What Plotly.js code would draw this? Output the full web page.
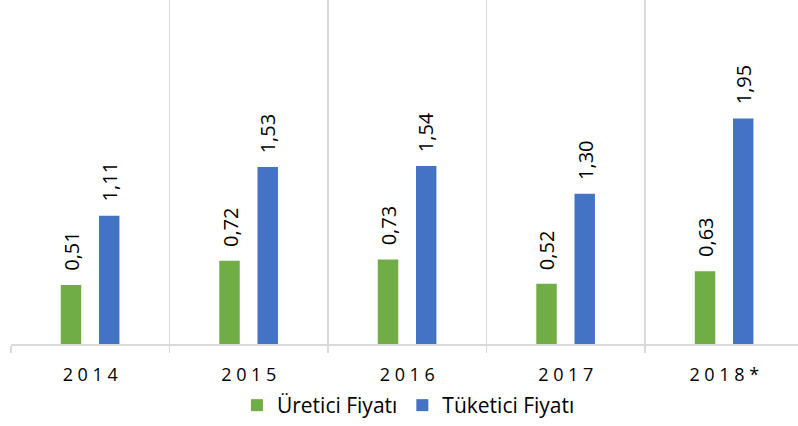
<!DOCTYPE html>
<html>
<head>
<meta charset="utf-8">
<script src="https://cdn.plot.ly/plotly-3.0.1.min.js"></script>
<style>html,body{margin:0;padding:0;background:#fff;}#chart{width:798px;height:426px;}</style>
</head>
<body>
<div id="chart"></div>
<script>
const categories = ["2014", "2015", "2016", "2017", "2018*"];
const ureticiFiyati = [0.51, 0.72, 0.73, 0.52, 0.63];
const tuketiciFiyati = [1.11, 1.53, 1.54, 1.30, 1.95];
const seriesNames = ["Üretici Fiyatı", "Tüketici Fiyatı"];

const fmt = v => v.toFixed(2).replace('.', ',');
const spaced = s => s.split('').join(' ');

const green = '#70AD47', blue = '#4472C4';
const FONT = '"Open Sans", "Liberation Sans", sans-serif';

const traces = [
  {type: 'bar', name: seriesNames[0], x: categories, y: ureticiFiyati,
   marker: {color: green}, width: 0.129, offset: -0.186, hoverinfo: 'none'},
  {type: 'bar', name: seriesNames[1], x: categories, y: tuketiciFiyati,
   marker: {color: blue}, width: 0.129, offset: 0.055, hoverinfo: 'none'}
];

const annotations = [];
[[ureticiFiyati, -19], [tuketiciFiyati, 19]].forEach(([vals, xs]) => {
  vals.forEach((v, i) => {
    annotations.push({
      x: i, y: v, xref: 'x', yref: 'y',
      text: fmt(v), textangle: -90, showarrow: false,
      xanchor: 'center', yanchor: 'bottom', xshift: xs, yshift: 12,
      font: {family: FONT, size: 20, color: '#000'}
    });
  });
});

const layout = {
  width: 798, height: 426,
  margin: {l: 11, r: 0, t: 0, b: 80, pad: 0},
  paper_bgcolor: '#fff', plot_bgcolor: '#fff',
  barmode: 'overlay',
  showlegend: true,
  legend: {orientation: 'h', x: 0.505, xanchor: 'center', y: -0.18, yanchor: 'middle',
           font: {family: FONT, size: 21, color: '#000'}, traceorder: 'normal'},
  xaxis: {
    type: 'category', range: [-0.5, 4.465], fixedrange: true,
    tickson: 'boundaries', ticks: 'outside', ticklen: 7, tickcolor: '#D9D9D9', tickwidth: 1.5,
    showgrid: true, gridcolor: '#D9D9D9', gridwidth: 1.5,
    showline: true, linecolor: '#D9D9D9', linewidth: 1.5,
    tickvals: categories, ticktext: categories.map(spaced),
    ticklabelstandoff: 14,
    tickfont: {family: FONT, size: 18, color: '#000'},
    automargin: false
  },
  yaxis: {range: [0, 2.975], showgrid: false, zeroline: false, showticklabels: false,
          ticks: '', showline: false, fixedrange: true},
  annotations: annotations
};

Plotly.newPlot('chart', traces, layout, {displayModeBar: false, staticPlot: true});
</script>
</body>
</html>
